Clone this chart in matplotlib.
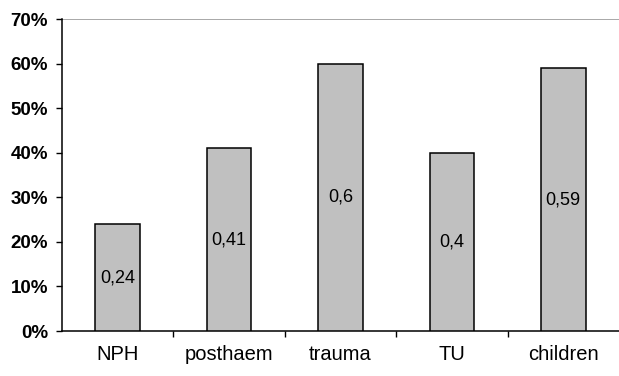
import matplotlib.pyplot as plt
from matplotlib.ticker import FuncFormatter, FixedLocator

# categories and shares
groups = ["NPH", "posthaem", "trauma", "TU", "children"]
shares = [0.24, 0.41, 0.6, 0.4, 0.59]
yticks = [0.0, 0.1, 0.2, 0.3, 0.4, 0.5, 0.6, 0.7]

plt.rcParams['font.family'] = ['Liberation Sans', 'DejaVu Sans']

fig = plt.figure(figsize=(6.19, 3.76), dpi=100)
ax = fig.add_axes([62 / 619, 1 - 331 / 376, 1 - 62 / 619, (331 - 19) / 376])

x = list(range(len(groups)))
bars = ax.bar(x, shares, width=0.4, color="#c0c0c0", edgecolor="black", linewidth=1.1, zorder=3)

# value labels in the middle of each bar, decimal comma
for b, v in zip(bars, shares):
    ax.text(b.get_x() + b.get_width() / 2, v / 2, str(v).replace(".", ","),
            ha="center", va="center", fontsize=13, zorder=4)

ax.set_xlim(-0.5, len(groups) - 0.5)
ax.set_ylim(0, 0.7)

# gray line along the top of the plot area
ax.axhline(0.7, color="#999999", linewidth=1.2, zorder=1)

ax.set_yticks(yticks)
ax.yaxis.set_major_formatter(FuncFormatter(lambda v, p: f"{round(v * 100)}%"))
ax.tick_params(axis="y", length=4, width=1, pad=6, labelsize=13.5, direction="out")
for lbl in ax.get_yticklabels():
    lbl.set_fontweight("bold")

ax.set_xticks(x)
ax.set_xticklabels(groups)
ax.tick_params(axis="x", which="major", length=0, pad=10, labelsize=14.5)
ax.xaxis.set_minor_locator(FixedLocator([0.5, 1.5, 2.5, 3.5]))
ax.tick_params(axis="x", which="minor", length=4, width=1, direction="out")

for s in ["top", "right"]:
    ax.spines[s].set_visible(False)
ax.spines["left"].set_linewidth(1.1)
ax.spines["bottom"].set_linewidth(1.1)

fig.savefig("out.png", dpi=100)
